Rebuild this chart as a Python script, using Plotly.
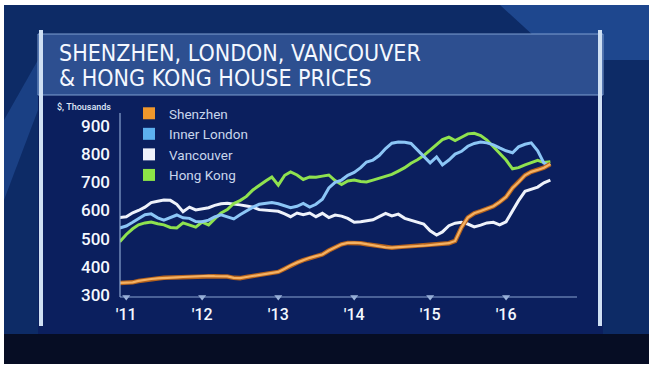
import plotly.graph_objects as go
import pandas as pd

# ---------------- data ($ thousands), monthly Dec 2010 .. Aug 2016 ----------------
dates = pd.date_range("2010-12-01", "2016-08-01", freq="MS")

shenzhen = [343, 343, 345, 350, 354, 357, 359, 361, 362, 363, 364, 365, 366,
            368, 368, 367, 366, 366, 361, 360, 364, 368, 372, 375, 378,
            382, 393, 405, 415, 424, 432, 438, 444, 458, 470, 480, 485,
            486, 484, 480, 477, 473, 469, 468, 470, 472, 473, 474, 475,
            477, 478, 480, 484, 492, 540, 575, 590, 598, 605, 615, 630,
            648, 680, 700, 725, 737, 744, 752, 765]

inner_london = [538, 545, 558, 572, 585, 588, 574, 566, 575, 584, 574, 572, 561,
                560, 566, 577, 585, 578, 570, 585, 600, 612, 622, 626, 628,
                624, 618, 610, 615, 625, 612, 622, 640, 680, 700, 708, 725,
                735, 752, 772, 779, 795, 820, 839, 843, 842, 838, 815, 790,
                769, 790, 762, 779, 800, 810, 828, 838, 843, 840, 833, 822,
                812, 805, 826, 835, 840, 812, 768, 758]

vancouver = [575, 578, 592, 600, 612, 628, 633, 637, 636, 622, 596, 612, 602,
             605, 610, 618, 624, 626, 624, 620, 616, 612, 603, 601, 600,
             597, 588, 578, 591, 585, 591, 578, 590, 575, 584, 580, 572,
             558, 560, 564, 567, 578, 590, 581, 587, 572, 566, 560, 552,
             528, 513, 524, 546, 555, 558, 552, 542, 548, 556, 558, 549,
             560, 600, 635, 668, 676, 683, 698, 708]

hong_kong = [489, 515, 535, 549, 556, 559, 553, 549, 540, 538, 556, 548, 541,
             559, 549, 570, 591, 603, 625, 635, 650, 673, 690, 705, 719,
             690, 725, 737, 726, 710, 719, 718, 722, 726, 706, 692, 705,
             708, 703, 701, 708, 715, 720, 728, 740, 752, 768, 780, 795,
             815, 837, 852, 860, 848, 860, 872, 874, 866, 850, 826, 804,
             779, 748, 752, 762, 770, 778, 770, 773]

series_names = ["Shenzhen", "Inner London", "Vancouver", "Hong Kong"]
y_ticks = [300, 400, 500, 600, 700, 800, 900]
x_tick_dates = ["2011-01-01", "2012-01-01", "2013-01-01", "2014-01-01", "2015-01-01", "2016-01-01"]
x_tick_text = ["'11", "'12", "'13", "'14", "'15", "'16"]
title_lines = ["SHENZHEN, LONDON, VANCOUVER", "& HONG KONG HOUSE PRICES"]
unit_label = "$, Thousands"

# ---------------- styling ----------------
W, H = 653, 370
L, R, T, B = 120, 577, 113, 297   # plot area in pixels
YMIN, YMAX = 293, 946


def px(xp):
    return (xp - L) / (R - L)


def py(yp):
    return (B - yp) / (B - T)


line_colors = {
    "Shenzhen": "#f5b162",
    "Inner London": "#8cc6f6",
    "Vancouver": "#eef2fb",
    "Hong Kong": "#8fe24f",
}
legend_colors = {
    "Shenzhen": "#f0982c",
    "Inner London": "#5db0ef",
    "Vancouver": "#f0f2fa",
    "Hong Kong": "#8de447",
}
data_map = {
    "Shenzhen": shenzhen,
    "Inner London": inner_london,
    "Vancouver": vancouver,
    "Hong Kong": hong_kong,
}

fig = go.Figure()

for name in ["Vancouver", "Hong Kong", "Inner London"]:
    fig.add_trace(go.Scatter(x=dates, y=data_map[name], mode="lines",
                             line=dict(color=line_colors[name], width=3),
                             showlegend=False, hoverinfo="skip"))
fig.add_trace(go.Scatter(x=dates, y=shenzhen, mode="lines",
                         line=dict(color="#b5621c", width=4.5),
                         showlegend=False, hoverinfo="skip"))
fig.add_trace(go.Scatter(x=dates, y=shenzhen, mode="lines",
                         line=dict(color=line_colors["Shenzhen"], width=2.2),
                         showlegend=False, hoverinfo="skip"))

for name in series_names:
    fig.add_trace(go.Scatter(x=[None], y=[None], mode="markers", name=name,
                             marker=dict(symbol="square", size=12, color=legend_colors[name])))

fig.add_trace(go.Scatter(x=x_tick_dates, y=[YMIN] * len(x_tick_dates), mode="markers",
                         marker=dict(symbol="triangle-down", size=7, color="#9fb6dc"),
                         cliponaxis=False, showlegend=False, hoverinfo="skip"))
fig.add_trace(go.Scatter(x=["2010-11-22"] * len(y_ticks), y=y_ticks, mode="markers",
                         marker=dict(symbol="triangle-left", size=6, color="#9fb6dc"),
                         cliponaxis=False, showlegend=False, hoverinfo="skip"))

shapes = []
shapes.append(dict(type="rect", xref="paper", yref="paper", x0=px(4), x1=px(649), y0=py(364), y1=py(5),
                   fillcolor="#0d2b66", line_width=0, layer="below"))
shapes.append(dict(type="path", xref="paper", yref="paper",
                   path=f"M {px(500)},{py(5)} L {px(649)},{py(5)} L {px(649)},{py(60)} L {px(560)},{py(60)} Z",
                   fillcolor="#2a5aa8", opacity=0.6, line_width=0, layer="below"))
shapes.append(dict(type="path", xref="paper", yref="paper",
                   path=f"M {px(4)},{py(120)} L {px(38)},{py(60)} L {px(38)},{py(110)} L {px(4)},{py(200)} Z",
                   fillcolor="#2a5aa8", opacity=0.45, line_width=0, layer="below"))
shapes.append(dict(type="rect", xref="paper", yref="paper", x0=px(4), x1=px(649), y0=py(364), y1=py(334),
                   fillcolor="#060d24", line_width=0, layer="below"))
shapes.append(dict(type="rect", xref="paper", yref="paper", x0=px(38), x1=px(603), y0=py(334), y1=py(95),
                   fillcolor="#0b1f5e", line_width=0, layer="below"))
shapes.append(dict(type="rect", xref="paper", yref="paper", x0=px(38), x1=px(603), y0=py(95), y1=py(34),
                   fillcolor="#2d4f90", line=dict(color="#7f9fd0", width=1), layer="below"))
for xp in (41, 600):
    shapes.append(dict(type="rect", xref="paper", yref="paper", x0=px(xp - 2), x1=px(xp + 2), y0=py(326), y1=py(30),
                       fillcolor="#cfe0f4", line_width=0, layer="below"))
shapes.append(dict(type="line", xref="paper", yref="paper", x0=0, x1=1, y0=0, y1=0,
                   line=dict(color="#8aa4cf", width=1.2)))
shapes.append(dict(type="line", xref="paper", yref="paper", x0=0, x1=0, y0=0, y1=1,
                   line=dict(color="#8aa4cf", width=1.2)))

title_font = dict(family="DejaVu Sans Condensed, Roboto, sans-serif", size=23, color="#f4f8ff")
annotations = [
    dict(text=title_lines[0], xref="paper", yref="paper",
         x=px(57), y=py(53), xanchor="left", yanchor="middle", showarrow=False, font=title_font),
    dict(text=title_lines[1], xref="paper", yref="paper",
         x=px(57), y=py(78), xanchor="left", yanchor="middle", showarrow=False, font=title_font),
    dict(text=unit_label, xref="paper", yref="paper", x=px(113), y=py(107),
         xanchor="right", yanchor="middle", showarrow=False,
         font=dict(family="Roboto, Arial, sans-serif", size=9, color="#dfe8f6", weight=500)),
]

fig.update_layout(
    width=W, height=H,
    margin=dict(l=L, r=W - R, t=T, b=H - B, pad=0),
    paper_bgcolor="#ffffff",
    plot_bgcolor="rgba(0,0,0,0)",
    shapes=shapes,
    annotations=annotations,
    showlegend=True,
    legend=dict(x=px(129), y=py(98), xanchor="left", yanchor="top",
                bgcolor="rgba(0,0,0,0)", font=dict(family="Roboto, Arial, sans-serif", size=13.5, color="#c9d6ec"),
                itemsizing="constant", tracegroupgap=0),
    xaxis=dict(type="date", range=["2010-12-02", "2016-12-07"], showgrid=False, zeroline=False,
               showline=False, tickvals=x_tick_dates, ticktext=x_tick_text, ticks="",
               tickfont=dict(family="Roboto, Arial, sans-serif", size=16, color="#f4f8ff", weight=500),
               ticklabelstandoff=6),
    yaxis=dict(range=[YMIN, YMAX], showgrid=False, zeroline=False, showline=False,
               tickvals=y_ticks, ticks="",
               tickfont=dict(family="Roboto, Arial, sans-serif", size=17, color="#f4f8ff", weight=500),
               ticklabelstandoff=9),
    font=dict(family="Roboto, Arial, sans-serif"),
)

fig.write_html("out.html", config={"displayModeBar": False},
               post_script="document.body.style.margin='0px';")
